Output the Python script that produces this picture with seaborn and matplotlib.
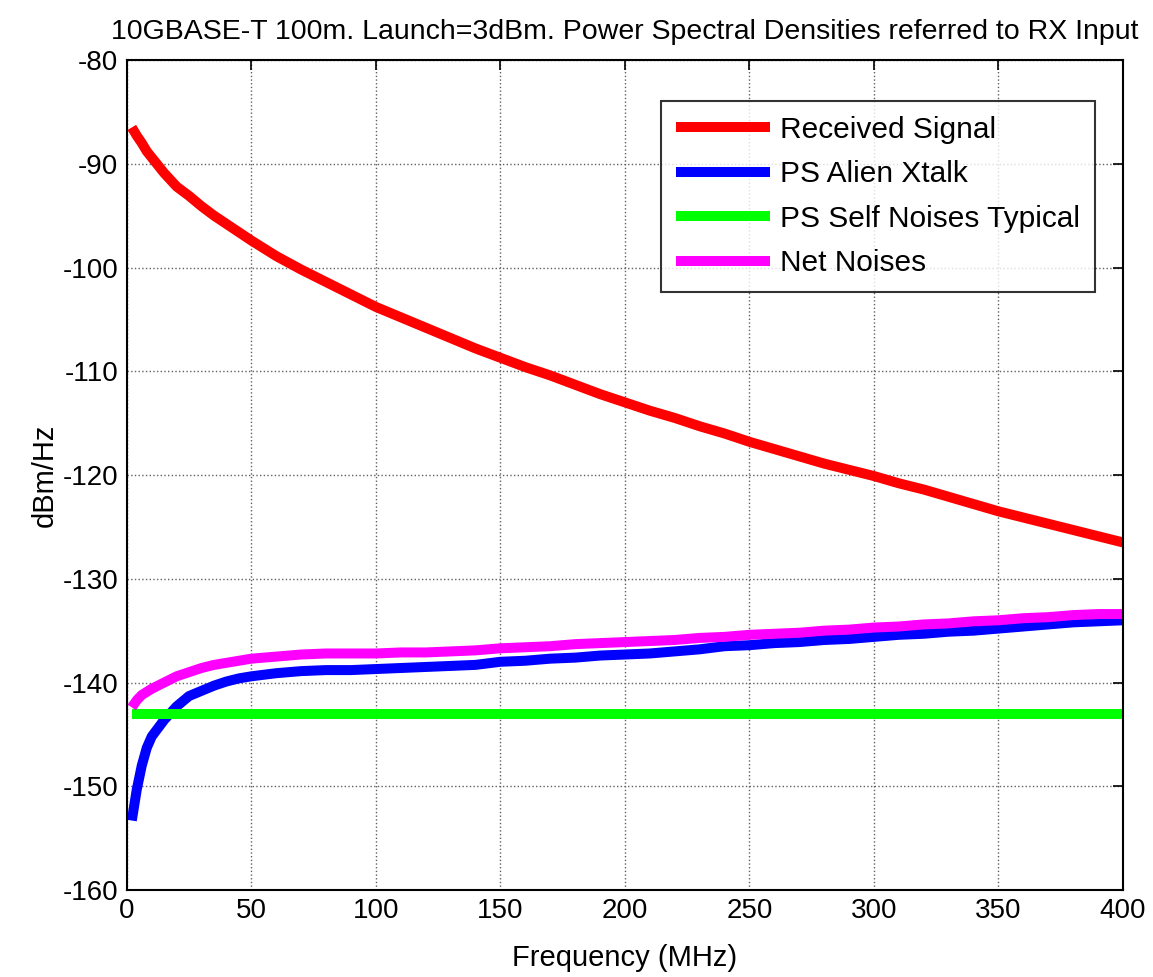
import matplotlib
matplotlib.use("Agg")
import matplotlib.pyplot as plt
import numpy as np
import pandas as pd
import seaborn as sns

# Frequency grid (MHz)
freq_mhz = [2, 4, 6, 8, 10, 15, 20, 25, 30, 35, 40, 45, 50,
            60, 70, 80, 90, 100, 110, 120, 130, 140, 150, 160, 170, 180, 190,
            200, 210, 220, 230, 240, 250, 260, 270, 280, 290, 300, 310, 320,
            330, 340, 350, 360, 370, 380, 390, 400]

# Power spectral densities at the receiver input (dBm/Hz)
received_signal = [-86.5, -87.3, -88.0, -88.8, -89.4, -90.9, -92.2, -93.1, -94.1,
                   -95.0, -95.8, -96.6, -97.4,
                   -98.9, -100.2, -101.4, -102.6, -103.8, -104.8, -105.8, -106.8,
                   -107.8, -108.7, -109.6, -110.4, -111.3, -112.2,
                   -113.0, -113.8, -114.5, -115.3, -116.0, -116.8, -117.5, -118.2,
                   -118.9, -119.5, -120.1, -120.8, -121.4,
                   -122.1, -122.8, -123.5, -124.1, -124.7, -125.3, -125.9, -126.5]

ps_alien_xtalk = [-153.3, -150.3, -148.0, -146.3, -145.2, -143.6, -142.3, -141.3, -140.8,
                  -140.3, -139.9, -139.6, -139.4,
                  -139.1, -138.9, -138.8, -138.8, -138.7, -138.6, -138.5, -138.4,
                  -138.3, -138.0, -137.9, -137.7, -137.6, -137.4,
                  -137.3, -137.2, -137.0, -136.8, -136.5, -136.4, -136.2, -136.1,
                  -135.9, -135.8, -135.6, -135.4, -135.3,
                  -135.1, -135.0, -134.8, -134.6, -134.4, -134.2, -134.1, -134.0]

ps_self_noise = [-143.0] * len(freq_mhz)

net_noise = [-142.4, -141.7, -141.2, -140.9, -140.6, -140.0, -139.4, -139.0, -138.6,
             -138.3, -138.1, -137.9, -137.7,
             -137.5, -137.3, -137.2, -137.2, -137.2, -137.1, -137.1, -137.0,
             -136.9, -136.7, -136.6, -136.5, -136.3, -136.2,
             -136.1, -136.0, -135.9, -135.7, -135.6, -135.4, -135.3, -135.2,
             -135.0, -134.9, -134.7, -134.6, -134.4,
             -134.3, -134.1, -134.0, -133.8, -133.7, -133.5, -133.4, -133.4]

series_names = ["Received Signal", "PS Alien Xtalk", "PS Self Noises Typical", "Net Noises"]
series_colors = ["#ff0000", "#0000ff", "#00ff00", "#ff00ff"]
x_ticks = [0, 50, 100, 150, 200, 250, 300, 350, 400]
y_ticks = [-160, -150, -140, -130, -120, -110, -100, -90, -80]

df = pd.DataFrame({"Frequency": freq_mhz * 4,
                   "PSD": received_signal + ps_alien_xtalk + ps_self_noise + net_noise,
                   "Series": sum([[n] * len(freq_mhz) for n in series_names], [])})

sns.set_style("white")
plt.rcParams["font.family"] = ["Liberation Sans", "DejaVu Sans"]
plt.rcParams["axes.unicode_minus"] = False
plt.rcParams["text.color"] = "black"
plt.rcParams["axes.labelcolor"] = "black"

fig = plt.figure(figsize=(11.53, 9.77), dpi=100)
ax = fig.add_axes([0.110, 0.089, 0.864, 0.8496])

sns.lineplot(data=df, x="Frequency", y="PSD", hue="Series", hue_order=series_names,
             palette=series_colors, linewidth=7.2, ax=ax, sort=False,
             solid_capstyle="butt", estimator=None)

ax.set_xlim(0, 400)
ax.set_ylim(-160, -80)
ax.set_xticks(x_ticks)
ax.set_yticks(y_ticks)
ax.grid(True, linestyle=":", linewidth=1.0, color="#606060")
ax.set_axisbelow(True)
ax.tick_params(direction="in", length=7, width=1.2, top=True, right=True,
               labelsize=20, colors="black", pad=6)
for s in ax.spines.values():
    s.set_visible(True)
    s.set_color("black")
    s.set_linewidth(1.5)

ax.set_xlabel("Frequency (MHz)", fontsize=21, labelpad=14, color="black")
ax.set_ylabel("dBm/Hz", fontsize=21, labelpad=3, color="black")
ax.set_title("10GBASE-T 100m. Launch=3dBm. Power Spectral Densities referred to RX Input",
             fontsize=20.5, pad=15, color="black")

handles, labels = ax.get_legend_handles_labels()
leg = ax.legend(handles, labels, loc="upper right", bbox_to_anchor=(0.972, 0.9506),
                borderaxespad=0, fontsize=21.5, frameon=True, fancybox=False,
                edgecolor="black", handlelength=3.15, handletextpad=0.34,
                labelspacing=0.55, borderpad=0.5, title=None)
leg.get_frame().set_linewidth(1.5)
for line in leg.get_lines():
    line.set_linewidth(7.2)
for t in leg.get_texts():
    t.set_color("black")

fig.savefig("out.png", dpi=100)
